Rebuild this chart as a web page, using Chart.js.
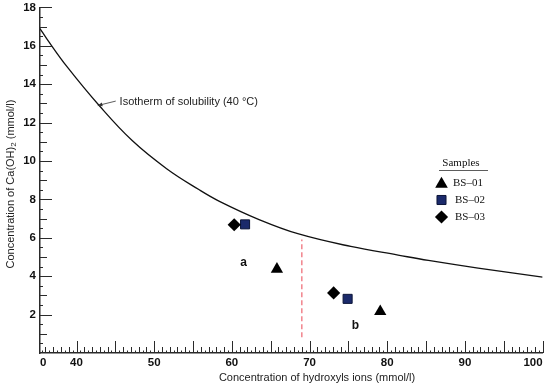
<!DOCTYPE html>
<html>
<head>
<meta charset="utf-8">
<script src="https://cdn.jsdelivr.net/npm/chart.js@4.4.1/dist/chart.umd.min.js"></script>
<style>
  html, body { margin: 0; padding: 0; background: #fff; }
  #wrap { width: 550px; height: 389px; }
</style>
</head>
<body>
<div id="wrap"><canvas id="chart" width="550" height="389"></canvas></div>
<script>
// isotherm of solubility (40 °C)
const curveX = [35.3, 36.2, 38.8, 43.0, 47.2, 51.6, 55.8, 58.4, 63.5, 68.6, 75.3, 81.4, 85.3, 91.7, 100]
const curveY = [16.9, 16.35, 14.9, 12.85, 11.05, 9.6, 8.5, 7.9, 6.95, 6.2, 5.55, 5.1, 4.82, 4.42, 3.95]

const sampleNames = ['BS–01', 'BS–02', 'BS–03']
const bs01X = [65.8, 79.1]
const bs01Y = [4.37, 2.16]
const bs02X = [61.7, 74.9]
const bs02Y = [6.70, 2.82]
const bs03X = [60.3, 73.1]
const bs03Y = [6.68, 3.13]

// dashed divider between groups a and b
const dividerX = [69.0, 69.0]
const dividerY = [0.82, 5.91]

const xMin = 35.3
const xMax = 100
const xTickValues = [xMin, 40, 50, 60, 70, 80, 90, 100]
const yTickValues = [2, 4, 6, 8, 10, 12, 14, 16, 18]

const axisColor = '#2a2a2a'
const navy = '#1b2a6b'

function pts(xs, ys) {
  return xs.map((x, i) => ({ x, y: ys[i] }))
}

const sampleStyles = [
  { pointStyle: 'triangle', radius: 7.1, backgroundColor: '#000', borderColor: '#000', borderWidth: 0 },
  { pointStyle: 'rect', radius: 6.4, backgroundColor: navy, borderColor: '#0c1538', borderWidth: 1 },
  { pointStyle: 'rectRot', radius: 6.6, backgroundColor: '#000', borderColor: '#000', borderWidth: 0 },
]

function sampleDataset(i, data) {
  const s = sampleStyles[i]
  return {
    label: sampleNames[i],
    data,
    pointStyle: s.pointStyle,
    pointRadius: s.radius,
    pointHoverRadius: s.radius,
    backgroundColor: s.backgroundColor,
    borderColor: s.borderColor,
    borderWidth: s.borderWidth,
    showLine: false,
    clip: false,
  }
}

const extras = {
  id: 'extras',
  afterDatasetsDraw(chart) {
    const ctx = chart.ctx
    const xs = chart.scales.x
    const ys = chart.scales.y
    const { left, bottom } = chart.chartArea
    ctx.save()
    ctx.strokeStyle = axisColor
    ctx.lineWidth = 1

    // x axis ticks pointing up into the plot
    for (let v = Math.ceil(xMin * 2) / 2; v <= xMax + 0.001; v += 0.5) {
      const len = v % 5 === 0 ? 12 : (v % 1 === 0 ? 6 : 2.5)
      const px = Math.round(xs.getPixelForValue(v)) + 0.5
      ctx.beginPath()
      ctx.moveTo(px, bottom)
      ctx.lineTo(px, bottom - len)
      ctx.stroke()
    }
    // y axis ticks pointing right
    for (let v = 0.5; v <= 18.001; v += 0.5) {
      const len = v % 2 === 0 ? 12 : (v % 1 === 0 ? 7 : 3)
      const py = Math.round(ys.getPixelForValue(v)) + 0.5
      ctx.beginPath()
      ctx.moveTo(left, py)
      ctx.lineTo(left + len, py)
      ctx.stroke()
    }

    // isotherm annotation with arrow
    const ax0 = xs.getPixelForValue(45.05), ay0 = ys.getPixelForValue(13.12)
    const ax1 = xs.getPixelForValue(42.74), ay1 = ys.getPixelForValue(12.89)
    ctx.strokeStyle = '#333'
    ctx.fillStyle = '#333'
    ctx.lineWidth = 0.8
    ctx.beginPath()
    ctx.moveTo(ax0, ay0)
    ctx.lineTo(ax1, ay1)
    ctx.stroke()
    const ang = Math.atan2(ay1 - ay0, ax1 - ax0)
    ctx.beginPath()
    ctx.moveTo(ax1, ay1)
    ctx.lineTo(ax1 - 5 * Math.cos(ang - 0.4), ay1 - 5 * Math.sin(ang - 0.4))
    ctx.lineTo(ax1 - 5 * Math.cos(ang + 0.4), ay1 - 5 * Math.sin(ang + 0.4))
    ctx.closePath()
    ctx.fill()
    ctx.fillStyle = '#222'
    ctx.font = '11px "Liberation Sans", Arial, sans-serif'
    ctx.textAlign = 'left'
    ctx.textBaseline = 'middle'
    ctx.fillText('Isotherm of solubility (40 °C)', xs.getPixelForValue(45.55), ys.getPixelForValue(13.08))

    // group letters
    ctx.font = 'bold 12px "Liberation Sans", Arial, sans-serif'
    ctx.textAlign = 'center'
    ctx.fillStyle = '#111'
    ctx.fillText('a', xs.getPixelForValue(61.5), ys.getPixelForValue(4.72))
    ctx.fillText('b', xs.getPixelForValue(75.9), ys.getPixelForValue(1.44))

    // legend box
    ctx.font = '11px "Liberation Serif", "Times New Roman", serif'
    ctx.fillStyle = '#111'
    ctx.fillText('Samples', 461, 163)
    ctx.strokeStyle = '#333'
    ctx.lineWidth = 0.8
    ctx.beginPath()
    ctx.moveTo(439, 170.5)
    ctx.lineTo(488, 170.5)
    ctx.stroke()
    const rows = [184, 200, 217]
    sampleNames.forEach((name, i) => {
      const s = sampleStyles[i]
      ctx.fillStyle = s.backgroundColor
      ctx.strokeStyle = s.borderColor
      ctx.lineWidth = s.borderWidth
      Chart.helpers.drawPoint(ctx, { pointStyle: s.pointStyle, radius: i === 0 ? 7.3 : s.radius, rotation: 0, borderWidth: s.borderWidth }, 441.5, rows[i])
      ctx.fillStyle = '#111'
      ctx.textAlign = 'left'
      ctx.fillText(name, i === 0 ? 453 : 455, i === 0 ? 183 : rows[i])
    })
    ctx.restore()
  },
  afterDraw(chart) {
    const ctx = chart.ctx
    ctx.save()
    ctx.fillStyle = '#222'
    ctx.textBaseline = 'middle'

    // x axis title
    ctx.font = '11px "Liberation Sans", Arial, sans-serif'
    ctx.textAlign = 'center'
    ctx.fillText('Concentration of hydroxyls ions (mmol/l)', 317, 378)

    // y axis title with subscript 2
    const big = '11px "Liberation Sans", Arial, sans-serif'
    const small = '8px "Liberation Sans", Arial, sans-serif'
    const p1 = 'Concentration of Ca(OH)'
    const p2 = '2'
    const p3 = ' (mmol/l)'
    ctx.font = big
    const w1 = ctx.measureText(p1).width
    const w3 = ctx.measureText(p3).width
    ctx.font = small
    const w2 = ctx.measureText(p2).width
    const total = w1 + w2 + w3
    ctx.translate(10.5, 184)
    ctx.rotate(-Math.PI / 2)
    ctx.textAlign = 'left'
    ctx.font = big
    ctx.fillText(p1, -total / 2, 0)
    ctx.font = small
    ctx.fillText(p2, -total / 2 + w1, 3)
    ctx.font = big
    ctx.fillText(p3, -total / 2 + w1 + w2, 0)
    ctx.restore()
  }
}

const ctx = document.getElementById('chart')

new Chart(ctx, {
  type: 'scatter',
  data: {
    datasets: [
      {
        type: 'line',
        label: 'Isotherm',
        data: pts(curveX, curveY),
        borderColor: '#111',
        borderWidth: 1.3,
        pointRadius: 0,
        tension: 0.4,
        fill: false,
      },
      {
        type: 'line',
        label: 'divider',
        data: pts(dividerX, dividerY),
        borderColor: '#f28a92',
        borderWidth: 1.6,
        borderDash: [5, 3],
        pointRadius: 0,
        fill: false,
      },
      sampleDataset(0, pts(bs01X, bs01Y)),
      sampleDataset(2, pts(bs03X, bs03Y)),
      sampleDataset(1, pts(bs02X, bs02Y)),
    ]
  },
  options: {
    responsive: false,
    animation: false,
    layout: { padding: { top: 3.5, right: 5, left: 0, bottom: 0 } },
    plugins: {
      legend: { display: false },
      tooltip: { enabled: false },
    },
    scales: {
      x: {
        type: 'linear',
        min: xMin,
        max: xMax,
        afterBuildTicks: (s) => { s.ticks = xTickValues.map(v => ({ value: v })) },
        afterFit: (s) => { s.height = 36; s.paddingLeft = 0; s.paddingRight = 0 },
        grid: { display: false, drawTicks: false },
        border: { display: true, color: axisColor, width: 1.5 },
        ticks: {
          align: 'inner',
          padding: 3,
          maxRotation: 0,
          autoSkip: false,
          color: '#111',
          font: { family: '"Liberation Sans", Arial, sans-serif', size: 11.5, weight: 'bold' },
          callback: (v) => v === xMin ? '0' : String(v),
        },
      },
      y: {
        type: 'linear',
        min: 0,
        max: 18,
        afterBuildTicks: (s) => { s.ticks = yTickValues.map(v => ({ value: v })) },
        afterFit: (s) => { s.width = 40; s.paddingTop = 0; s.paddingBottom = 0 },
        grid: { display: false, drawTicks: false },
        border: { display: true, color: axisColor, width: 1.5 },
        ticks: {
          padding: 4,
          autoSkip: false,
          color: '#111',
          font: { family: '"Liberation Sans", Arial, sans-serif', size: 11.5, weight: 'bold' },
        },
      },
    },
  },
  plugins: [extras],
})
</script>
</body>
</html>
